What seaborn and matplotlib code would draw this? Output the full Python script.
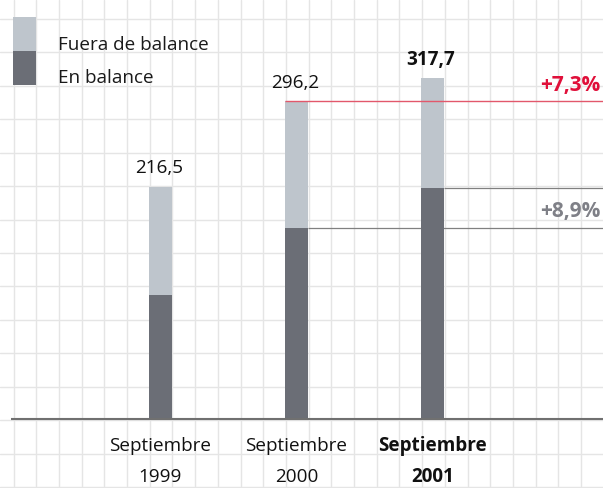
import numpy as np
import pandas as pd
import matplotlib
matplotlib.use("Agg")
import matplotlib.pyplot as plt
from matplotlib.patches import Rectangle
import seaborn as sns

# datos
periodos = ["1999", "2000", "2001"]
total = [216.5, 296.2, 317.7]          # en balance + fuera de balance
en_balance = [115.5, 178.0, 215.0]     # estimado del grafico
crecimiento = ["+7,3%", "+8,9%"]       # total, en balance (2000 -> 2001)
leyenda = ["Fuera de balance", "En balance"]

df = pd.DataFrame({"periodo": periodos, "total": total, "en_balance": en_balance})

sns.set_theme(style="white")
plt.rcParams["font.family"] = ["Open Sans", "DejaVu Sans"]
fs = 13.6

W, H = 603, 488
fig = plt.figure(figsize=(W / 100, H / 100), dpi=100)

# fondo cuadriculado (coordenadas en pixeles)
bg = fig.add_axes([0, 0, 1, 1], zorder=0)
bg.set_xlim(0, W)
bg.set_ylim(H, 0)
bg.axis("off")
for gx in np.arange(13.5, W, 22.7):
    bg.axvline(gx, color="#e5e5e5", lw=1.0, zorder=1)
for gy in np.arange(19, H, 33.43):
    bg.axhline(gy, color="#e5e5e5", lw=1.0, zorder=1)

# leyenda
c_claro, c_oscuro = "#bec5cc", "#6b6e76"
bg.add_patch(Rectangle((13, 17), 23, 34, facecolor=c_claro, lw=0, zorder=3))
bg.add_patch(Rectangle((13, 51), 23, 34, facecolor=c_oscuro, lw=0, zorder=3))
bg.text(58, 45, leyenda[0], fontsize=fs, va="center", color="#1a1a1a")
bg.text(58, 78, leyenda[1], fontsize=fs, va="center", color="#1a1a1a")

# grafico principal
ax = fig.add_axes([0, 0, 1, 1], zorder=1)
ax.patch.set_alpha(0)
ancho = 23 / 136
sns.barplot(data=df, x="periodo", y="total", color=c_claro, width=ancho,
            saturation=1, linewidth=0, ax=ax, zorder=2)
sns.barplot(data=df, x="periodo", y="en_balance", color=c_oscuro, width=ancho,
            saturation=1, linewidth=0, ax=ax, zorder=2)

s = 1.0737  # px por unidad
x0, x1 = -160.5 / 136, (W - 160.5) / 136
ax.set_xlim(x0, x1)
ax.set_ylim(-(H - 419) / s, 419 / s)
ax.axis("off")

# linea base
ax.hlines(0, x0 + 11 / 136, x1, color="#707070", lw=1.5, zorder=3)

# lineas de referencia
ax.hlines(total[1], 1 - ancho / 2, x1, color="#e2586b", lw=1.0, zorder=3)
ax.hlines(en_balance[1], 1 + ancho / 2, x1, color="#808080", lw=0.9, zorder=1)
ax.hlines(en_balance[2], 2 + ancho / 2, x1, color="#808080", lw=0.9, zorder=1)

ax.annotate(crecimiento[0], (x1, total[1]), xytext=(-2, 11), textcoords="offset points",
            ha="right", va="center", fontsize=15, fontweight="bold", color="#e0103a")
ax.annotate(crecimiento[1], (x1, en_balance[1]), xytext=(-2, 12), textcoords="offset points",
            ha="right", va="center", fontsize=15, fontweight="bold", color="#7f8087")

# etiquetas de valores y periodos
for i, (p, t) in enumerate(zip(periodos, total)):
    peso = "bold" if i == 2 else "normal"
    ax.annotate(f"{t:.1f}".replace(".", ","), (i, t), xytext=(-1, 13),
                textcoords="offset points", ha="center", va="center",
                fontsize=fs, fontweight=peso, color="#111111")
    ax.text(i, 1 - 446 / H, "Septiembre", transform=ax.get_xaxis_transform(),
            ha="center", va="center", fontsize=fs, fontweight=peso, color="#111111")
    ax.text(i, 1 - 477 / H, p, transform=ax.get_xaxis_transform(),
            ha="center", va="center", fontsize=fs, fontweight=peso, color="#111111")

fig.savefig("out.png", dpi=100)
